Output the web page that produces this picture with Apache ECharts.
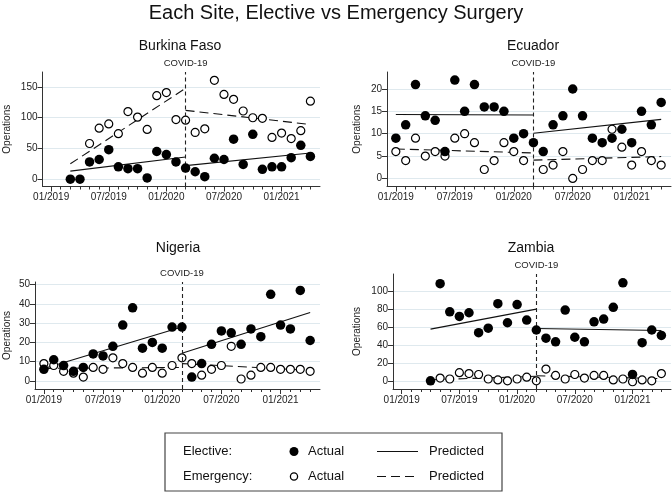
<!DOCTYPE html>
<html>
<head>
<meta charset="utf-8">
<script src="https://cdn.jsdelivr.net/npm/echarts@6/dist/echarts.min.js"></script>
<style>
html,body{margin:0;padding:0;background:#fff;}
#chart{width:672px;height:495px;}
</style>
</head>
<body>
<div id="chart"></div>
<script>
// ---- data ----
const months = [0,1,2,3,4,5,6,7,8,9,10,11,12,13,14,15,16,17,18,19,20,21,22,23,24,25,26,27];
const xTickValues = [0, 6, 12, 18, 24];
const xTickLabels = ['01/2019', '07/2019', '01/2020', '07/2020', '01/2021'];
const covidMonth = 14;

const panelTitles = ['Burkina Faso', 'Ecuador', 'Nigeria', 'Zambia'];

// Burkina Faso
const bfElective  = [null,null,0,0,28,32,48,20,17,17,2,45,40,28,18,12,4,34,32,65,24,73,16,20,20,35,55,37];
const bfEmergency = [null,null,null,null,58,83,90,74,110,101,81,136,141,97,96,76,82,161,138,130,111,100,99,68,75,66,79,127];
const bfElecPre  = [[2,13],[14,36]];
const bfElecPost = [[14,22],[27,42.5]];
const bfEmerPre  = [[2,25],[14,148]];
const bfEmerPost = [[14,112],[27,89]];
const bfYTicks = [0,50,100,150];

// Ecuador
const ecElective  = [9,12,21,14,13,6,22,15,21,16,16,15,9,10,8,6,12,14,20,14,9,8,9,11,8,15,12,17];
const ecEmergency = [6,4,9,5,6,5,9,10,8,2,4,8,6,4,null,2,3,6,0,2,4,4,11,7,3,6,4,3];
const ecElecPre  = [[0,14.3],[14,14.2]];
const ecElecPost = [[14,10.1],[27,13.2]];
const ecEmerPre  = [[0,6.6],[14,5.7]];
const ecEmerPost = [[14,4.1],[27,4.9]];
const ecYTicks = [0,5,10,15,20];

// Nigeria
const ngElective  = [6,11,8,5,7,14,13,18,29,38,17,20,17,28,28,2,9,19,26,25,19,27,23,45,29,27,47,21];
const ngEmergency = [9,8,5,4,2,7,6,12,9,7,4,7,4,8,12,9,3,6,8,18,1,3,7,7,6,6,6,5];
const ngElecPre  = [[0,6.5],[14,28]];
const ngElecPost = [[14,14.4],[27,35.6]];
const ngEmerPre  = [[0,6.5],[14,7]];
const ngEmerPost = [[14,9],[27,5.5]];
const ngYTicks = [0,10,20,30,40,50];

// Zambia
const zmElective  = [null,null,null,1,108,77,72,76,54,59,86,65,85,68,57,48,44,79,49,44,66,69,82,109,8,43,57,51];
const zmEmergency = [null,null,null,null,4,3,10,9,8,3,2,1,3,5,1,14,7,3,8,4,7,7,2,3,0,2,1,9];
const zmElecPre  = [[3,58],[14,80]];
const zmElecPost = [[14,58.7],[27,56.5]];
const zmEmerPre  = [[3,2.2],[14,6]];
const zmEmerPost = [[14,6.6],[27,3.5]];
const zmYTicks = [0,20,40,60,80,100];

// ---- layout ----
const FONT = '"Liberation Sans", Arial, Helvetica, sans-serif';
const grids = [
  {left: 42.5, top: 72, width: 277.5, height: 114.5},
  {left: 387, top: 72, width: 284, height: 114.5},
  {left: 35, top: 282, width: 285, height: 107},
  {left: 393, top: 274, width: 278, height: 115}
];
const yRanges = [[-12, 174.5], [-1.8, 23.8], [-4.2, 51.4], [-8, 118.7]];
const yNameGaps = [30, 25, 23, 31];
const titlePos = [[180, 46], [533, 46], [178, 248], [531, 248]];

const panels = [
  {el: bfElective, em: bfEmergency, ep: bfElecPre, eq: bfElecPost, mp: bfEmerPre, mq: bfEmerPost, yt: bfYTicks},
  {el: ecElective, em: ecEmergency, ep: ecElecPre, eq: ecElecPost, mp: ecEmerPre, mq: ecEmerPost, yt: ecYTicks},
  {el: ngElective, em: ngEmergency, ep: ngElecPre, eq: ngElecPost, mp: ngEmerPre, mq: ngEmerPost, yt: ngYTicks},
  {el: zmElective, em: zmEmergency, ep: zmElecPre, eq: zmElecPost, mp: zmEmerPre, mq: zmEmerPost, yt: zmYTicks}
];

const axisColor = '#333';
const gridColor = '#dfe9ee';
const xAxes = [], yAxes = [], series = [];

panels.forEach((p, i) => {
  xAxes.push({
    type: 'value', gridIndex: i, min: -0.9, max: 28,
    axisLine: {show: true, onZero: false, lineStyle: {color: axisColor, width: 1}},
    axisTick: {show: true, length: 5, customValues: xTickValues, lineStyle: {color: axisColor}},
    axisLabel: {customValues: xTickValues, formatter: v => xTickLabels[xTickValues.indexOf(v)] || '',
      fontFamily: FONT, fontSize: 10, color: '#222', margin: 6},
    splitLine: {show: false}
  });
  xAxes.push({
    type: 'value', gridIndex: i, min: -0.9, max: 28, position: 'bottom',
    axisLine: {show: false, onZero: false},
    axisTick: {show: true, length: 3, customValues: months, lineStyle: {color: axisColor}},
    axisLabel: {show: false},
    splitLine: {show: false}
  });
  yAxes.push({
    type: 'value', gridIndex: i, min: yRanges[i][0], max: yRanges[i][1],
    name: 'Operations', nameLocation: 'middle', nameRotate: 90, nameGap: yNameGaps[i],
    nameTextStyle: {fontFamily: FONT, fontSize: 10, color: '#222'},
    axisLine: {show: true, onZero: false, lineStyle: {color: axisColor, width: 1}},
    axisTick: {show: true, length: 5, customValues: p.yt, lineStyle: {color: axisColor}},
    axisLabel: {customValues: p.yt, fontFamily: FONT, fontSize: 10, color: '#222', margin: 5},
    splitLine: {show: true, lineStyle: {color: gridColor, width: 1}}
  });
  const xi = i * 2;
  const pairs = arr => months.map((m, k) => arr[k] === null ? null : [m, arr[k]]).filter(d => d);
  const lineS = (data, dashed) => ({
    type: 'line', xAxisIndex: xi, yAxisIndex: i, data: data, symbol: 'none', silent: true,
    lineStyle: {color: '#111', width: 1.1, type: dashed ? [9, 5] : 'solid'}, z: 3
  });
  series.push(lineS(p.ep, false), lineS(p.eq, false), lineS(p.mp, true), lineS(p.mq, true));
  series.push({
    type: 'scatter', xAxisIndex: xi, yAxisIndex: i, data: pairs(p.em),
    symbol: 'circle', symbolSize: 8,
    itemStyle: {color: '#fff', borderColor: '#000', borderWidth: 1.2, opacity: 1}, z: 4
  });
  series.push({
    type: 'scatter', xAxisIndex: xi, yAxisIndex: i, data: pairs(p.el),
    symbol: 'circle', symbolSize: 9.5,
    itemStyle: {color: '#000', opacity: 1}, z: 5,
    markLine: {
      symbol: 'none', silent: true, animation: false,
      lineStyle: {color: '#222', width: 1.1, type: [4, 3]},
      label: {show: true, position: 'end', formatter: 'COVID-19', fontFamily: FONT, fontSize: 9.5, color: '#222', distance: 4},
      data: [{xAxis: covidMonth}]
    }
  });
});

const graphics = [
  {type: 'text', left: 'center', top: 3, style: {text: 'Each Site, Elective vs Emergency Surgery', font: '20px ' + FONT, fill: '#111'}}
];
panelTitles.forEach((t, i) => {
  graphics.push({type: 'text', x: titlePos[i][0], y: titlePos[i][1],
    style: {text: t, font: '14px ' + FONT, fill: '#111', align: 'center', verticalAlign: 'middle'}});
});
// legend box
const legendRows = [['Elective:', false], ['Emergency:', true]];
graphics.push({type: 'rect', shape: {x: 165, y: 433, width: 337, height: 58},
  style: {fill: '#fff', stroke: '#444', lineWidth: 1.2}});
legendRows.forEach((r, k) => {
  const cy = 451.5 + k * 25;
  graphics.push({type: 'text', x: 183, y: cy, style: {text: r[0], font: '13px ' + FONT, fill: '#111', verticalAlign: 'middle'}});
  graphics.push({type: 'circle', shape: {cx: 294, cy: cy, r: r[1] ? 3.6 : 4.5},
    style: r[1] ? {fill: '#fff', stroke: '#000', lineWidth: 1.3} : {fill: '#000'}});
  graphics.push({type: 'text', x: 308, y: cy, style: {text: 'Actual', font: '13px ' + FONT, fill: '#111', verticalAlign: 'middle'}});
  graphics.push({type: 'line', shape: {x1: 377, y1: cy, x2: 418, y2: cy},
    style: {stroke: '#111', lineWidth: 1.2, lineDash: r[1] ? [9, 5] : null}});
  graphics.push({type: 'text', x: 429, y: cy, style: {text: 'Predicted', font: '13px ' + FONT, fill: '#111', verticalAlign: 'middle'}});
});

const chart = echarts.init(document.getElementById('chart'), null, {renderer: 'canvas'});
chart.setOption({
  animation: false,
  backgroundColor: '#fff',
  grid: grids.map(g => Object.assign({containLabel: false, outerBoundsMode: 'none'}, g)),
  xAxis: xAxes,
  yAxis: yAxes,
  series: series,
  graphic: graphics
});
</script>
</body>
</html>
